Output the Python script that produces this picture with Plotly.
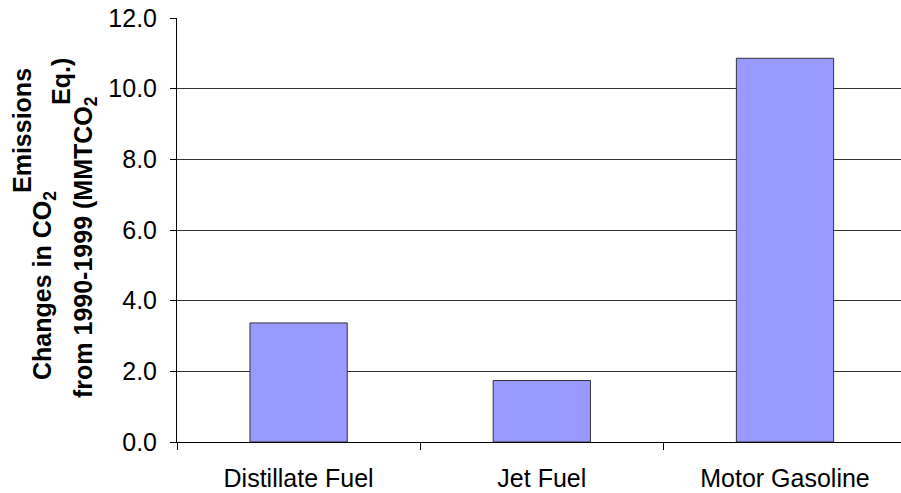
import plotly.graph_objects as go

# Fuel categories and change in CO2 emissions, 1990-1999 (MMTCO2 Eq.)
categories = ["Distillate Fuel", "Jet Fuel", "Motor Gasoline"]
changes = [3.37, 1.74, 10.86]
y_ticks = [0, 2, 4, 6, 8, 10, 12]
y_tick_labels = ["0.0", "2.0", "4.0", "6.0", "8.0", "10.0", "12.0"]

W, H = 901, 493
L, R, T, B = 177, 0, 18, 51
FONT = "Liberation Sans, Arial, sans-serif"
SIZE = 25


def px_x(px):
    return (px - L) / (W - L - R)


def px_y(py):
    return (H - B - py) / (H - T - B)


fig = go.Figure(
    go.Bar(
        x=categories,
        y=changes,
        width=0.4,
        marker=dict(color="#9999FF", line=dict(color="#333333", width=1)),
        hoverinfo="x+y",
    )
)

# Multi-line bold axis title, laid out as separate rotated lines
title_lines = [
    ("Emissions", 22, 131),
    ("Changes in CO<sub>2</sub>", 44, 286),
    ("Eq.)", 61, 82),
    ("from 1990-1999 (MMTCO<sub>2</sub>", 85, 247),
]
for text, cx, cy in title_lines:
    fig.add_annotation(
        text="<b>" + text + "</b>",
        xref="paper", yref="paper",
        x=px_x(cx), y=px_y(cy),
        xanchor="center", yanchor="middle",
        textangle=-90, showarrow=False,
        font=dict(family=FONT, size=SIZE, color="#000000"),
    )

fig.update_layout(
    width=W, height=H,
    margin=dict(l=L, r=R, t=T, b=B, pad=0),
    paper_bgcolor="#FFFFFF",
    plot_bgcolor="#FFFFFF",
    showlegend=False,
    font=dict(family=FONT, size=SIZE, color="#000000"),
    xaxis=dict(
        type="category",
        range=[-0.5, 2.477],
        tickson="boundaries",
        ticks="outside", ticklen=7, tickcolor="#000000", tickwidth=1,
        showline=True, linecolor="#000000", linewidth=1,
        showgrid=False,
        tickfont=dict(family=FONT, size=SIZE),
        ticklabelstandoff=14,
    ),
    yaxis=dict(
        range=[0, 12],
        tickvals=y_ticks, ticktext=y_tick_labels,
        ticks="outside", ticklen=6, tickcolor="#000000", tickwidth=1,
        showline=True, linecolor="#000000", linewidth=1,
        showgrid=True, gridcolor="#333333", gridwidth=1,
        zeroline=False,
        tickfont=dict(family=FONT, size=SIZE),
        ticklabelstandoff=8,
    ),
)

fig.write_html("out.html")
